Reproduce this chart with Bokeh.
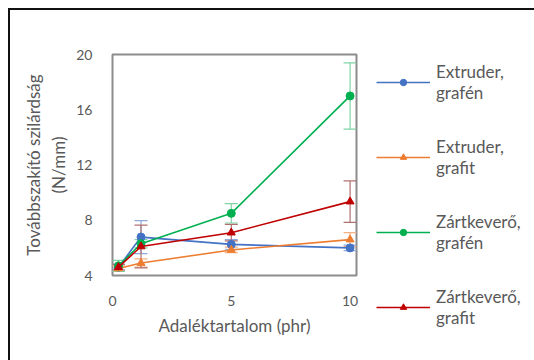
from bokeh.plotting import figure
from bokeh.models import (Range1d, Legend, LegendItem, Whisker, TeeHead,
                          ColumnDataSource, FixedTicker, InlineStyleSheet)
from bokeh.embed import file_html
from bokeh.resources import INLINE

# ---- data ----
x_phr = [0.25, 1.2, 5, 10]
names = ["Extruder,\ngrafén", "Extruder,\ngrafit", "Zártkeverő,\ngrafén", "Zártkeverő,\ngrafit"]
ext_grafen = [4.6, 6.78, 6.25, 6.0]
ext_grafen_err = [0.2, 1.2, 0.35, 0.2]
ext_grafit = [4.5, 4.9, 5.85, 6.6]
ext_grafit_err = [0.2, 0.3, 0.2, 0.5]
zk_grafen = [4.7, 6.3, 8.5, 17.0]
zk_grafen_err = [0.4, 0.3, 0.7, 2.4]
zk_grafit = [4.6, 6.1, 7.1, 9.35]
zk_grafit_err = [0.2, 1.55, 0.6, 1.5]
x_ticks = [0, 5, 10]
y_ticks = [4, 8, 12, 16, 20]

FONT = "Lato"
TXT = "#595959"

p = figure(frame_width=244, frame_height=221, output_backend="svg", toolbar_location=None,
           x_range=Range1d(0, 10.27), y_range=Range1d(4, 20),
           min_border_left=112, min_border_right=178, min_border_top=54,
           min_border_bottom=85)
p.xgrid.visible = False
p.ygrid.visible = False
p.outline_line_color = "#8c8c8c"
p.outline_line_width = 2
p.background_fill_color = "white"
p.border_fill_color = "white"

for ax in (p.xaxis[0], p.yaxis[0]):
    ax.axis_line_color = None
    ax.major_tick_line_color = None
    ax.minor_tick_line_color = None
    ax.major_label_text_font = FONT
    ax.major_label_text_font_size = "14px"
    ax.major_label_text_color = TXT
    ax.axis_label_text_font = FONT
    ax.axis_label_text_font_size = "17px"
    ax.axis_label_text_font_style = "normal"
    ax.axis_label_text_color = TXT

p.xaxis.ticker = FixedTicker(ticks=x_ticks)
p.yaxis.ticker = FixedTicker(ticks=y_ticks)
p.xaxis.major_label_standoff = 14
p.yaxis.major_label_standoff = 14
p.xaxis.axis_label = "Adaléktartalom (phr)"
p.yaxis.axis_label = "Továbbszakító szilárdság\n(N/mm)"
p.xaxis.axis_label_standoff = 6
p.yaxis.axis_label_standoff = 4

series = [
    (ext_grafen, ext_grafen_err, "#4472C4", "#8fa9dc", "circle"),
    (ext_grafit, ext_grafit_err, "#ED7D31", "#f4b183", "triangle"),
    (zk_grafen, zk_grafen_err, "#00B050", "#7fd4a3", "circle"),
    (zk_grafit, zk_grafit_err, "#C00000", "#b07070", "triangle"),
]

items = []
for (ys, errs, col, ecol, mk), name in zip(series, names):
    src = ColumnDataSource(dict(x=x_phr, y=ys,
                                lo=[a - b for a, b in zip(ys, errs)],
                                hi=[a + b for a, b in zip(ys, errs)]))
    w = Whisker(source=src, base="x", upper="hi", lower="lo",
                line_color=ecol, line_width=1.2,
                upper_head=TeeHead(size=13, line_color=ecol, line_width=1.2),
                lower_head=TeeHead(size=13, line_color=ecol, line_width=1.2))
    p.add_layout(w)
    r_line = p.line("x", "y", source=src, line_color=col, line_width=1.6)
    r_mk = p.scatter("x", "y", source=src, marker=mk, size=8,
                     fill_color=col, line_color=col)
    items.append(LegendItem(label=name, renderers=[r_line, r_mk]))

legend = Legend(items=items, location=(20, -53), orientation="vertical",
                glyph_width=54, glyph_height=16, label_standoff=6,
                spacing=33, padding=0, margin=0,
                label_text_font=FONT, label_text_font_size="17px",
                label_text_color=TXT, label_text_line_height=1.2,
                border_line_color=None, background_fill_alpha=0)
p.add_layout(legend, "right")

p.stylesheets = [InlineStyleSheet(css=":host{position:relative;} :host::after{content:'';position:absolute;left:8px;top:8px;right:0;bottom:0;border-left:2px solid #111;border-top:2px solid #111;pointer-events:none;z-index:10;}")]

open("out.html", "w").write(file_html(p, INLINE))
